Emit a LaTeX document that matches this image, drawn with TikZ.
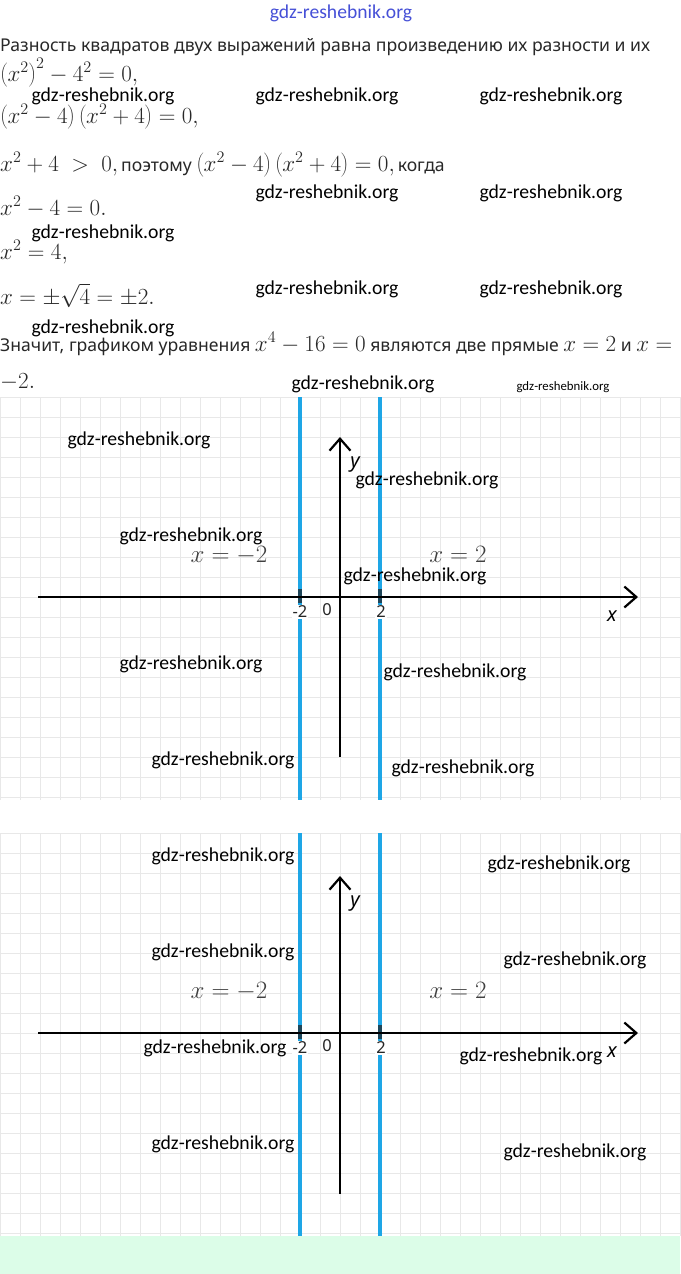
\RequirePackage{fix-cm}
\documentclass[tikz,border=0pt]{standalone}
\usepackage{fontspec}
\setmainfont{Noto Sans}
\newfontfamily\wmfont{Carlito}
\usetikzlibrary{arrows.meta}
\definecolor{lineblue}{RGB}{30,166,230}
\definecolor{gridgray}{RGB}{232,232,232}
\definecolor{mint}{RGB}{220,253,232}
\definecolor{wmblue}{RGB}{70,80,215}
\definecolor{tickdark}{RGB}{30,70,90}
\definecolor{txt}{RGB}{40,40,40}
\newcommand\mm[1]{{\fontsize{23.1}{26}\selectfont$#1$}}
\newcommand\graphpanel[4]{%
\begin{scope}[shift={(0,#2)}]
  \foreach \gx in {0,20,...,680} \draw[gridline] (\gx,0) -- (\gx,403);
  \foreach \gy in {0,20,...,400} \draw[gridline] (0,\gy) -- (680,\gy);
  \coordinate (#1at) at (300,0);
  \coordinate (#1ab) at (300,403);
  \coordinate (#1bt) at (380,0);
  \coordinate (#1bb) at (380,403);
  \draw[blueline] (#1at) -- (#1ab);
  \draw[blueline] (#1bt) -- (#1bb);
  \coordinate (#1ta1) at (300,192);
  \coordinate (#1ta2) at (300,206);
  \coordinate (#1tb1) at (380,192);
  \coordinate (#1tb2) at (380,206);
  \draw[tickmark] (#1ta1) -- (#1ta2);
  \draw[tickmark] (#1tb1) -- (#1tb2);
  \coordinate (#1xl) at (38,200);
  \coordinate (#1xr) at (638,200);
  \coordinate (#1yt) at (340,#3);
  \coordinate (#1yb) at (340,#4);
  \draw[axis] (#1xl) -- (#1xr);
  \draw[axis] (#1yb) -- (#1yt);
  \node[axlab] (#1lm) at (300,215) {-2};
  \node[axlab,fill=none] (#1lz) at (327,213) {0};
  \node[axlab] (#1lp) at (381,215) {2};
  \node[axvar] (#1lx) at (612,219) {x};
  \node[axvar] (#1ly) at (355,#3+28) {y};
  \node[lineeq] (#1em) at (229,165) {$x=-2$};
  \node[lineeq] (#1ep) at (458,165) {$x=2$};
\end{scope}}
\begin{document}
\begin{tikzpicture}[x=1pt,y=-1pt,
  body/.style={anchor=base west,inner sep=0pt,text=txt,font=\fontsize{17.6}{20}\selectfont},
  wmark/.style={anchor=base,inner sep=0pt,text=black,font=\wmfont\fontsize{19.7}{22}\selectfont},
  gridline/.style={draw=gridgray,line width=1pt},
  blueline/.style={draw=lineblue,line width=4.5pt},
  tickmark/.style={draw=tickdark,line width=4.5pt},
  axis/.style={draw=black,line width=2.5pt,-{Straight Barb[length=12pt,width=21pt,line width=2.2pt]}},
  axlab/.style={anchor=center,inner sep=1pt,fill=white,text=black!85,font=\fontsize{16.5}{18}\selectfont},
  axvar/.style={anchor=center,inner sep=0pt,text=black,font=\itshape\fontsize{20}{22}\selectfont},
  lineeq/.style={anchor=base,inner sep=0pt,text=black!75,font=\fontsize{25}{28}\selectfont}]
\useasboundingbox (0,0) rectangle (680,1274);
\fill[white] (0,0) rectangle (680,1274);
\fill[mint] (0,1236) rectangle (680,1274);

\node[anchor=base,inner sep=0pt,text=wmblue,font=\wmfont\fontsize{19.6}{22}\selectfont] (wtop) at (341,18) {gdz-reshebnik.org};

\node[body] (t1) at (0,51) {Разность квадратов двух выражений равна произведению их разности и их};
\node[body] (t2) at (0,81) {\mm{\left(x^2\right)^2-4^2=0,}};
\node[body] (t3) at (0,123) {\mm{\left(x^2-4\right)\left(x^2+4\right)=0,}};
\node[body] (t4) at (0,171) {\mm{x^2+4\ >\ 0,}\,поэтому \mm{\left(x^2-4\right)\left(x^2+4\right)=0,}\,когда};
\node[body] (t5) at (0,215) {\mm{x^2-4=0.}};
\node[body] (t6) at (0,259) {\mm{x^2=4,}};
\node[body] (t7) at (0,304) {\mm{x=\pm\sqrt{4}=\pm2.}};
\node[body] (t8) at (0,351) {Значит, графиком уравнения \mm{x^4-16=0} являются две прямые \mm{x=2} и \mm{x=}};
\node[body] (t9) at (0,388) {\mm{-2.}};

\graphpanel{g}{397}{40}{360}
\graphpanel{h}{833}{43}{361}

\node[wmark] (w1) at (103,101) {gdz-reshebnik.org};
\node[wmark] (w2) at (327,101) {gdz-reshebnik.org};
\node[wmark] (w3) at (551,101) {gdz-reshebnik.org};
\node[wmark] (w4) at (327,198) {gdz-reshebnik.org};
\node[wmark] (w5) at (551,198) {gdz-reshebnik.org};
\node[wmark] (w6) at (103,238) {gdz-reshebnik.org};
\node[wmark] (w7) at (327,294) {gdz-reshebnik.org};
\node[wmark] (w8) at (551,294) {gdz-reshebnik.org};
\node[wmark] (w9) at (103,333) {gdz-reshebnik.org};
\node[wmark] (w10) at (363,389) {gdz-reshebnik.org};
\node[wmark,font=\wmfont\fontsize{12.8}{14}\selectfont] (w11) at (563,390) {gdz-reshebnik.org};

\node[wmark] (g1) at (139,445) {gdz-reshebnik.org};
\node[wmark] (g2) at (191,541) {gdz-reshebnik.org};
\node[wmark] (g3) at (427,485) {gdz-reshebnik.org};
\node[wmark] (g4) at (415,581) {gdz-reshebnik.org};
\node[wmark] (g5) at (191,669) {gdz-reshebnik.org};
\node[wmark] (g6) at (455,677) {gdz-reshebnik.org};
\node[wmark] (g7) at (223,765) {gdz-reshebnik.org};
\node[wmark] (g8) at (463,773) {gdz-reshebnik.org};

\node[wmark] (h1) at (223,861) {gdz-reshebnik.org};
\node[wmark] (h2) at (559,869) {gdz-reshebnik.org};
\node[wmark] (h3) at (223,957) {gdz-reshebnik.org};
\node[wmark] (h4) at (575,965) {gdz-reshebnik.org};
\node[wmark] (h5) at (215,1053) {gdz-reshebnik.org};
\node[wmark] (h6) at (531,1061) {gdz-reshebnik.org};
\node[wmark] (h7) at (223,1149) {gdz-reshebnik.org};
\node[wmark] (h8) at (575,1157) {gdz-reshebnik.org};
\end{tikzpicture}
\end{document}
